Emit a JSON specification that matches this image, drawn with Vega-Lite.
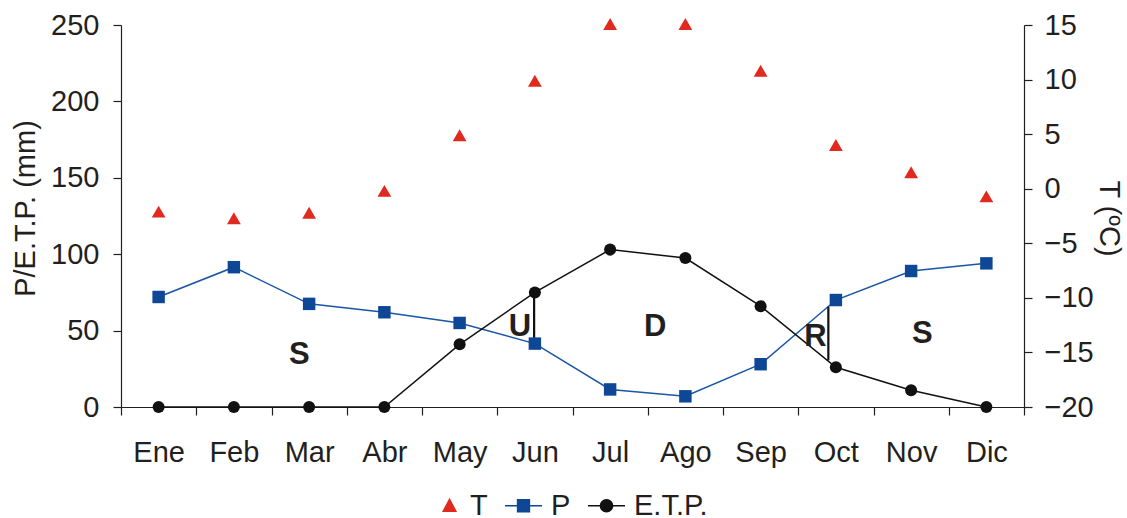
{
  "$schema": "https://vega.github.io/schema/vega-lite/v6.json",
  "width": 903,
  "height": 382,
  "autosize": {"type": "none"},
  "padding": {"left": 121, "top": 25, "right": 103, "bottom": 111},
  "background": "white",
  "config": {
    "view": {"stroke": null},
    "font": "Liberation Sans",
    "axis": {
      "domainColor": "#231f20",
      "tickColor": "#231f20",
      "labelColor": "#231f20",
      "titleColor": "#231f20",
      "labelFont": "Liberation Sans",
      "titleFont": "Liberation Sans",
      "labelFontSize": 29,
      "titleFontSize": 29,
      "titleFontWeight": "normal",
      "tickSize": 8,
      "domainWidth": 1.2,
      "tickWidth": 1.2,
      "grid": false
    }
  },
  "datasets": {
    "clima": [
      {"mes": "Ene", "P": 72, "ETP": 0, "T": -2.1},
      {"mes": "Feb", "P": 91.5, "ETP": 0, "T": -2.7},
      {"mes": "Mar", "P": 67.5, "ETP": 0, "T": -2.2},
      {"mes": "Abr", "P": 62, "ETP": 0, "T": -0.2},
      {"mes": "May", "P": 55, "ETP": 41, "T": 4.9},
      {"mes": "Jun", "P": 41.5, "ETP": 75, "T": 9.9},
      {"mes": "Jul", "P": 11.5, "ETP": 103, "T": 15.1},
      {"mes": "Ago", "P": 7, "ETP": 97.5, "T": 15.1},
      {"mes": "Sep", "P": 28, "ETP": 66, "T": 10.8},
      {"mes": "Oct", "P": 70, "ETP": 26, "T": 4.0},
      {"mes": "Nov", "P": 89, "ETP": 11, "T": 1.5},
      {"mes": "Dic", "P": 94, "ETP": 0, "T": -0.7}
    ]
  },
  "layer": [
    {
      "layer": [
        {
          "data": {"name": "clima"},
          "mark": {"type": "line", "color": "#1a55a6", "strokeWidth": 1.5},
          "encoding": {
            "x": {"field": "mes", "type": "nominal", "sort": null,
              "scale": {"domain": ["Ene","Feb","Mar","Abr","May","Jun","Jul","Ago","Sep","Oct","Nov","Dic"], "paddingInner": 0, "paddingOuter": 0},
              "axis": {"title": null, "tickBand": "extent", "labelAngle": 0, "labelPadding": 23}},
            "y": {"field": "P", "type": "quantitative",
              "scale": {"domain": [0, 250], "nice": false},
              "axis": {"title": "P/E.T.P. (mm)", "values": [0,50,100,150,200,250], "labelPadding": 14, "titleX": -96, "titleY": 183, "titleBaseline": "middle", "titleAngle": -90}}
          }
        },
        {
          "data": {"name": "clima"},
          "mark": {"type": "line", "color": "#111111", "strokeWidth": 1.5},
          "encoding": {
            "x": {"field": "mes", "type": "nominal", "sort": null},
            "y": {"field": "ETP", "type": "quantitative"}
          }
        },
        {
          "data": {"values": [{"mes": "Jun", "desde": 41.5, "hasta": 75}]},
          "mark": {"type": "rule", "color": "#111111", "strokeWidth": 2.2},
          "encoding": {
            "x": {"field": "mes", "type": "nominal", "sort": null, "bandPosition": 0.49},
            "y": {"field": "desde", "type": "quantitative"},
            "y2": {"field": "hasta"}
          }
        },
        {
          "data": {"values": [{"mes": "Oct", "desde": 30.5, "hasta": 65.7}]},
          "mark": {"type": "rule", "color": "#111111", "strokeWidth": 2.2},
          "encoding": {
            "x": {"field": "mes", "type": "nominal", "sort": null, "bandPosition": 0.4},
            "y": {"field": "desde", "type": "quantitative"},
            "y2": {"field": "hasta"}
          }
        },
        {
          "data": {"name": "clima"},
          "mark": {"type": "point", "shape": "square", "filled": true, "color": "#0d4795", "size": 155, "opacity": 1},
          "encoding": {
            "x": {"field": "mes", "type": "nominal", "sort": null},
            "y": {"field": "P", "type": "quantitative"}
          }
        },
        {
          "data": {"name": "clima"},
          "mark": {"type": "point", "shape": "circle", "filled": true, "color": "#111111", "size": 145, "opacity": 1},
          "encoding": {
            "x": {"field": "mes", "type": "nominal", "sort": null},
            "y": {"field": "ETP", "type": "quantitative"}
          }
        },
        {
          "data": {"values": [{"mes": "Mar", "valor": 34, "texto": "S"}]},
          "mark": {"type": "text", "fontSize": 31, "fontWeight": "bold", "color": "#231f20", "baseline": "middle"},
          "encoding": {
            "x": {"field": "mes", "type": "nominal", "sort": null, "bandPosition": 0.37},
            "y": {"field": "valor", "type": "quantitative"},
            "text": {"field": "texto"}
          }
        },
        {
          "data": {"values": [{"mes": "Jun", "valor": 52.5, "texto": "U"}]},
          "mark": {"type": "text", "fontSize": 31, "fontWeight": "bold", "color": "#231f20", "baseline": "middle"},
          "encoding": {
            "x": {"field": "mes", "type": "nominal", "sort": null, "bandPosition": 0.3},
            "y": {"field": "valor", "type": "quantitative"},
            "text": {"field": "texto"}
          }
        },
        {
          "data": {"values": [{"mes": "Ago", "valor": 52.5, "texto": "D"}]},
          "mark": {"type": "text", "fontSize": 31, "fontWeight": "bold", "color": "#231f20", "baseline": "middle"},
          "encoding": {
            "x": {"field": "mes", "type": "nominal", "sort": null, "bandPosition": 0.1},
            "y": {"field": "valor", "type": "quantitative"},
            "text": {"field": "texto"}
          }
        },
        {
          "data": {"values": [{"mes": "Oct", "valor": 46, "texto": "R"}]},
          "mark": {"type": "text", "fontSize": 31, "fontWeight": "bold", "color": "#231f20", "baseline": "middle"},
          "encoding": {
            "x": {"field": "mes", "type": "nominal", "sort": null, "bandPosition": 0.23},
            "y": {"field": "valor", "type": "quantitative"},
            "text": {"field": "texto"}
          }
        },
        {
          "data": {"values": [{"mes": "Nov", "valor": 48, "texto": "S"}]},
          "mark": {"type": "text", "fontSize": 31, "fontWeight": "bold", "color": "#231f20", "baseline": "middle"},
          "encoding": {
            "x": {"field": "mes", "type": "nominal", "sort": null, "bandPosition": 0.65},
            "y": {"field": "valor", "type": "quantitative"},
            "text": {"field": "texto"}
          }
        }
      ]
    },
    {
      "data": {"name": "clima"},
      "mark": {"type": "point", "shape": "triangle-up", "filled": true, "color": "#e0291f", "size": 190, "opacity": 1},
      "encoding": {
        "x": {"field": "mes", "type": "nominal", "sort": null},
        "y": {"field": "T", "type": "quantitative",
          "scale": {"domain": [-20, 15], "nice": false},
          "axis": {"orient": "right", "title": "T (ºC)", "values": [-20,-15,-10,-5,0,5,10,15], "labelPadding": 12, "titleX": 84, "titleY": 193, "titleBaseline": "middle", "titleAngle": 90}}
      }
    },
    {
      "data": {"values": [{"serie": "T"}, {"serie": "P"}, {"serie": "E.T.P."}]},
      "mark": {"type": "point", "filled": true, "opacity": 0},
      "encoding": {
        "color": {"field": "serie", "type": "nominal", "sort": null,
          "scale": {"domain": ["T", "P", "E.T.P."], "range": ["#e0291f", "#0d4795", "#111111"]},
          "legend": {
            "orient": "none", "legendX": 302, "legendY": 461, "direction": "horizontal",
            "title": null, "labelFontSize": 29, "labelColor": "#231f20", "labelFont": "Liberation Sans",
            "symbolSize": 1369, "labelOffset": 8, "columnPadding": 14, "symbolOpacity": 1,
            "symbolStrokeWidth": 1.5,
            "encode": {"symbols": {"update": {"stroke": {"scale": "color", "field": "value"}, "fill": {"scale": "color", "field": "value"}, "opacity": {"value": 1}, "strokeWidth": {"value": 1.5}}}}
          }},
        "shape": {"field": "serie", "type": "nominal", "sort": null,
          "scale": {"domain": ["T", "P", "E.T.P."], "range": [
            "M0.38,-0.34L0.72,0.3L0.04,0.3Z",
            "M-1,0H1M-0.32,-0.32H0.32V0.32H-0.32Z",
            "M-1,0H1M-0.33,0A0.33,0.33,0,1,0,0.33,0A0.33,0.33,0,1,0,-0.33,0Z"
          ]}}
      }
    }
  ],
  "resolve": {"scale": {"y": "independent"}}
}
